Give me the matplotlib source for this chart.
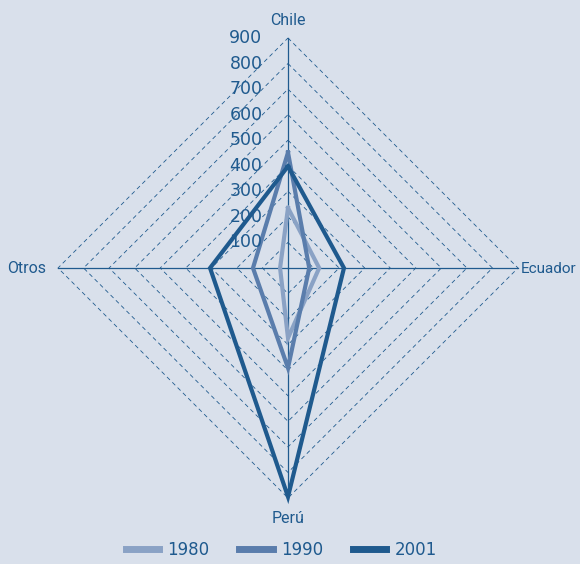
import numpy as np
import matplotlib
matplotlib.use("Agg")
import matplotlib.pyplot as plt

# axes in drawing order (clockwise from top)
paises = ["Chile", "Ecuador", "Perú", "Otros"]
anios = ["1980", "1990", "2001"]
v1980 = [235, 122, 274, 31]
v1990 = [452, 83, 391, 137]
v2001 = [398, 219, 895, 305]
ticks = [100, 200, 300, 400, 500, 600, 700, 800, 900]

bg = "#d9e0eb"
azul = "#1f5a8e"
colores = ["#8aa2c5", "#5a7dac", "#1f5a8e"]

ang = np.radians([90, 0, 270, 180])

def xy(vals):
    v = np.array(list(vals) + [vals[0]], dtype=float)
    a = np.append(ang, ang[0])
    return v * np.cos(a), v * np.sin(a)

fig = plt.figure(figsize=(5.8, 5.64), dpi=100, facecolor=bg)
ax = fig.add_axes([0, 0, 1, 1])
ax.set_facecolor(bg)
ppu = 230 / 900.0
ax.set_xlim(-288 / ppu, (580 - 288) / ppu)
ax.set_ylim(-(564 - 268) / ppu, 268 / ppu)
ax.axis("off")

# dashed diamond grid
for t in ticks:
    gx, gy = xy([t] * 4)
    ax.plot(gx, gy, ls=(0, (5, 4)), lw=0.6, color=azul, zorder=1)

# spokes
for a in ang:
    ax.plot([0, 900 * np.cos(a)], [0, 900 * np.sin(a)], lw=0.9, color=azul, zorder=2)

# tick labels
for t in ticks:
    ax.text(-100, t, str(t), ha="right", va="center", fontsize=12.5,
            color=azul, family="DejaVu Sans", zorder=5)

# axis labels
lab_fam = ["Roboto", "DejaVu Sans"]
fs = 11.5
ax.text(0, 970, paises[0], ha="center", va="center", fontsize=fs, color=azul, family=lab_fam)
ax.text(912, -3, paises[1], ha="left", va="center", fontsize=11, color=azul, family=lab_fam)
ax.text(0, -980, paises[2], ha="center", va="center", fontsize=fs, color=azul, family=lab_fam)
ax.text(-945, -3, paises[3], ha="right", va="center", fontsize=fs, color=azul, family=lab_fam)

for serie, nombre, c in zip([v1980, v1990, v2001], anios, colores):
    sx, sy = xy(serie)
    ax.plot(sx, sy, lw=3, color=c, solid_joinstyle="miter", label=nombre, zorder=3)

leg = fig.legend(loc="lower center", bbox_to_anchor=(0.485, -0.018), ncol=3,
                 frameon=False, fontsize=12, handlelength=2.0, columnspacing=1.8,
                 handletextpad=0.5)
for h in leg.get_lines():
    h.set_linewidth(5)
for tx in leg.get_texts():
    tx.set_color(azul)

fig.savefig("out.png", dpi=100, facecolor=bg)
